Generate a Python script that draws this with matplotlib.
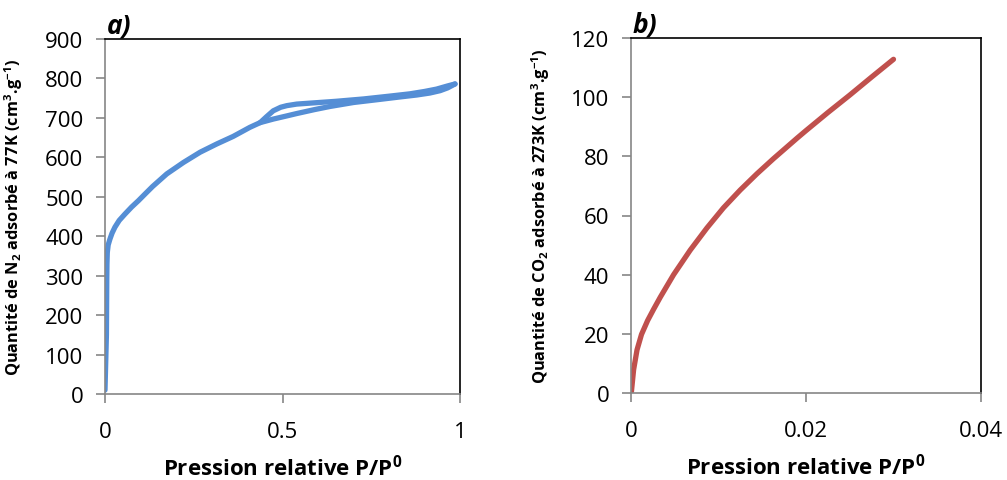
import matplotlib
matplotlib.use("Agg")
import matplotlib.pyplot as plt

plt.rcParams['font.family'] = ['Open Sans', 'DejaVu Sans']
plt.rcParams['mathtext.fontset'] = 'custom'
plt.rcParams['mathtext.rm'] = 'Open Sans'
plt.rcParams['mathtext.bf'] = 'Open Sans:bold'

# isotherme N2 a 77K : branche d'adsorption
n2_ads_x = [0.0, 0.004, 0.005, 0.0055, 0.0065, 0.009, 0.014, 0.02, 0.028, 0.04, 0.056,
            0.075, 0.094, 0.115, 0.134, 0.174, 0.221, 0.268, 0.315, 0.361, 0.408,
            0.437, 0.474, 0.512, 0.54, 0.59, 0.634, 0.70, 0.775, 0.83, 0.878, 0.915,
            0.944, 0.965, 0.986]
n2_ads_y = [10, 150, 292, 330, 359, 378, 393, 408, 423, 440, 456,
            474, 490, 509, 526, 558, 587, 613, 634, 653, 676,
            688, 697, 705, 711, 721, 729, 739, 747, 753, 758, 763,
            769, 776, 786]
# branche de desorption (boucle d'hysteresis)
n2_des_x = [0.986, 0.965, 0.934, 0.90, 0.859, 0.80, 0.728, 0.65, 0.587, 0.54, 0.512,
            0.495, 0.474, 0.455, 0.437]
n2_des_y = [786, 781, 773, 767, 761, 755, 748, 742, 738, 735, 731,
            727, 718, 703, 688]

# isotherme CO2 a 273K
co2_x = [0.00005, 0.0003, 0.00069, 0.0012, 0.0019, 0.0026, 0.00335, 0.00487, 0.00677,
         0.00868, 0.01057, 0.01248, 0.01439, 0.01628, 0.019, 0.02, 0.0225, 0.025,
         0.0275, 0.030]
co2_y = [0.5, 7.9, 14.6, 19.8, 24.5, 28.4, 32.4, 40.0, 48.3,
         55.8, 62.6, 68.6, 74.1, 79.2, 86.2, 88.7, 94.8, 100.7,
         106.8, 112.8]

fig = plt.figure(figsize=(10.07, 4.81), dpi=100)
ax1 = fig.add_axes([105/1007, 1-395/481, 355/1007, 355/481])
ax2 = fig.add_axes([631/1007, 1-394/481, 350/1007, 355/481])

ax1.plot(n2_ads_x, n2_ads_y, color='#558ED5', linewidth=3.8,
         solid_capstyle='round', solid_joinstyle='round')
ax1.plot(n2_des_x, n2_des_y, color='#558ED5', linewidth=3.8,
         solid_capstyle='round', solid_joinstyle='round')
ax2.plot(co2_x, co2_y, color='#C0504D', linewidth=3.8,
         solid_capstyle='round', solid_joinstyle='round')

ax1.set_xlim(0, 1)
ax1.set_ylim(0, 900)
ax1.set_xticks([0, 0.5, 1])
ax1.set_xticklabels(['0', '0.5', '1'])
ax1.set_yticks(range(0, 901, 100))
ax2.set_xlim(0, 0.04)
ax2.set_ylim(0, 120)
ax2.set_xticks([0, 0.02, 0.04])
ax2.set_xticklabels(['0', '0.02', '0.04'])
ax2.set_yticks(range(0, 121, 20))

ylabels = [r'Quantité de N$_\mathbf{2}$ adsorbé à 77K (cm$^\mathbf{3}$.g$^\mathbf{-1}$)',
           r'Quantité de CO$_\mathbf{2}$ adsorbé à 273K (cm$^\mathbf{3}$.g$^\mathbf{-1}$)']
for ax, lettre, lab in zip([ax1, ax2], ['a)', 'b)'], ylabels):
    for s in ['left', 'bottom']:
        ax.spines[s].set_color('#868686')
        ax.spines[s].set_linewidth(1.2)
    for s in ['top', 'right']:
        ax.spines[s].set_color('black')
        ax.spines[s].set_linewidth(1.2)
    ax.tick_params(direction='out', length=6.5, width=1.2, color='#868686',
                   labelsize=16, labelcolor='black')
    ax.tick_params(axis='x', pad=13)
    ax.tick_params(axis='y', pad=9)
    ax.set_xlabel(r'Pression relative P/P$^\mathbf{0}$', fontsize=16, fontweight='bold', labelpad=8)
    ax.set_ylabel(lab, fontsize=11.8, fontweight='bold')
    ax.yaxis.set_label_coords(-0.225, 0.5)
    ax.text(0.005, 1.0, lettre, transform=ax.transAxes, fontsize=19,
            fontweight='bold', fontstyle='italic', va='bottom', ha='left')

fig.savefig('out.png', dpi=100)
